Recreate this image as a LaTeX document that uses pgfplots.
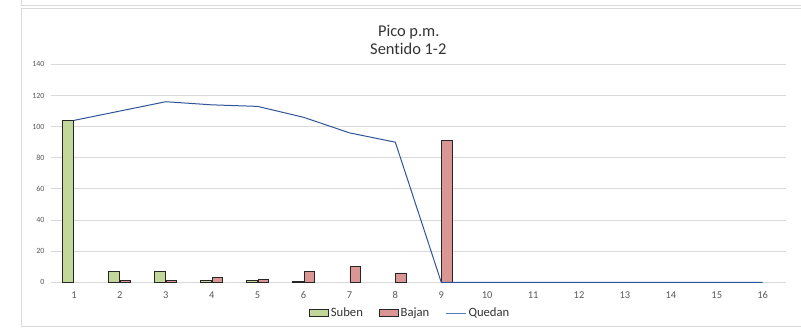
\documentclass[border=0pt]{standalone}
\usepackage{pgfplots}
\pgfplotsset{compat=1.18}
\usepackage{fontspec}
\setmainfont[Ligatures=NoCommon]{Carlito}
\definecolor{sub}{RGB}{196,215,155}
\definecolor{baj}{RGB}{218,150,148}
\definecolor{qued}{RGB}{47,85,151}
\definecolor{quedl}{RGB}{91,125,185}
\definecolor{gridc}{RGB}{217,217,217}
\definecolor{txt}{RGB}{89,89,89}
\begin{document}
\begin{tikzpicture}[x=1bp,y=1bp]
\path (0,0) rectangle (801,327);
\draw[gridc, line width=0.8bp] (21.5,327) -- (21.5,321.5) -- (801,321.5);
\draw[gridc, line width=0.8bp] (801,1) -- (21,1) -- (21,319) -- (801,319);
\begin{axis}[
  at={(51bp,45bp)}, anchor=south west,
  scale only axis, width=735bp, height=218bp,
  xmin=0.5, xmax=16.5, ymin=0, ymax=140,
  xtick={1,...,16}, ytick={0,20,...,140},
  ymajorgrids, grid style={gridc, line width=0.8bp},
  axis line style={draw=none},
  major tick length=0pt,
  xticklabel style={font=\fontsize{10.5}{12}\selectfont, text=txt, yshift=-6bp},
  yticklabel style={font=\fontsize{8}{10}\selectfont, text=txt, xshift=-3bp},
  /pgf/number format/assume math mode=true,
  legend style={at={(0.489,-0.142)}, anchor=center, legend columns=3, draw=none,
    font=\fontsize{12.7}{14}\selectfont, inner sep=0pt, text=black!80,
    /tikz/every even column/.append style={column sep=14bp}},
  legend cell align=left,
]
\addplot[ybar, bar width=10.5bp, bar shift=-5.8bp, fill=sub, draw=black!85, line width=0.8bp,
  legend image code/.code={\draw[fill=sub, draw=black!85, line width=0.8bp] (0bp,-3.5bp) rectangle (19bp,3.5bp);}]
  coordinates {(1,104) (2,7) (3,7) (4,1) (5,1) (6,0.4)};
\addlegendentry{Suben}
\addplot[ybar, bar width=10.5bp, bar shift=5.8bp, fill=baj, draw=black!85, line width=0.8bp,
  legend image code/.code={\draw[fill=baj, draw=black!85, line width=0.8bp] (0bp,-3.5bp) rectangle (19bp,3.5bp);}]
  coordinates {(2,1) (3,1) (4,3) (5,2) (6,7) (7,10) (8,6) (9,91)};
\addlegendentry{Bajan}
\addplot[qued, line width=1bp, mark=none,
  legend image code/.code={\draw[quedl, line width=1.2bp] (0bp,0bp) -- (20bp,0bp);}]
  coordinates {(1,104) (2,110) (3,116) (4,114) (5,113) (6,106) (7,96) (8,90) (9,0) (10,0) (11,0) (12,0) (13,0) (14,0) (15,0) (16,0)};
\addlegendentry{Quedan}
\end{axis}
\node[font=\fontsize{16.5}{18}\selectfont, text=black!80, anchor=base, inner sep=0pt] at (409,291.3) {Pico p.m.};
\node[font=\fontsize{16.5}{18}\selectfont, text=black!80, anchor=base, inner sep=0pt] at (408.5,272.7) {Sentido 1-2};
\end{tikzpicture}
\end{document}
